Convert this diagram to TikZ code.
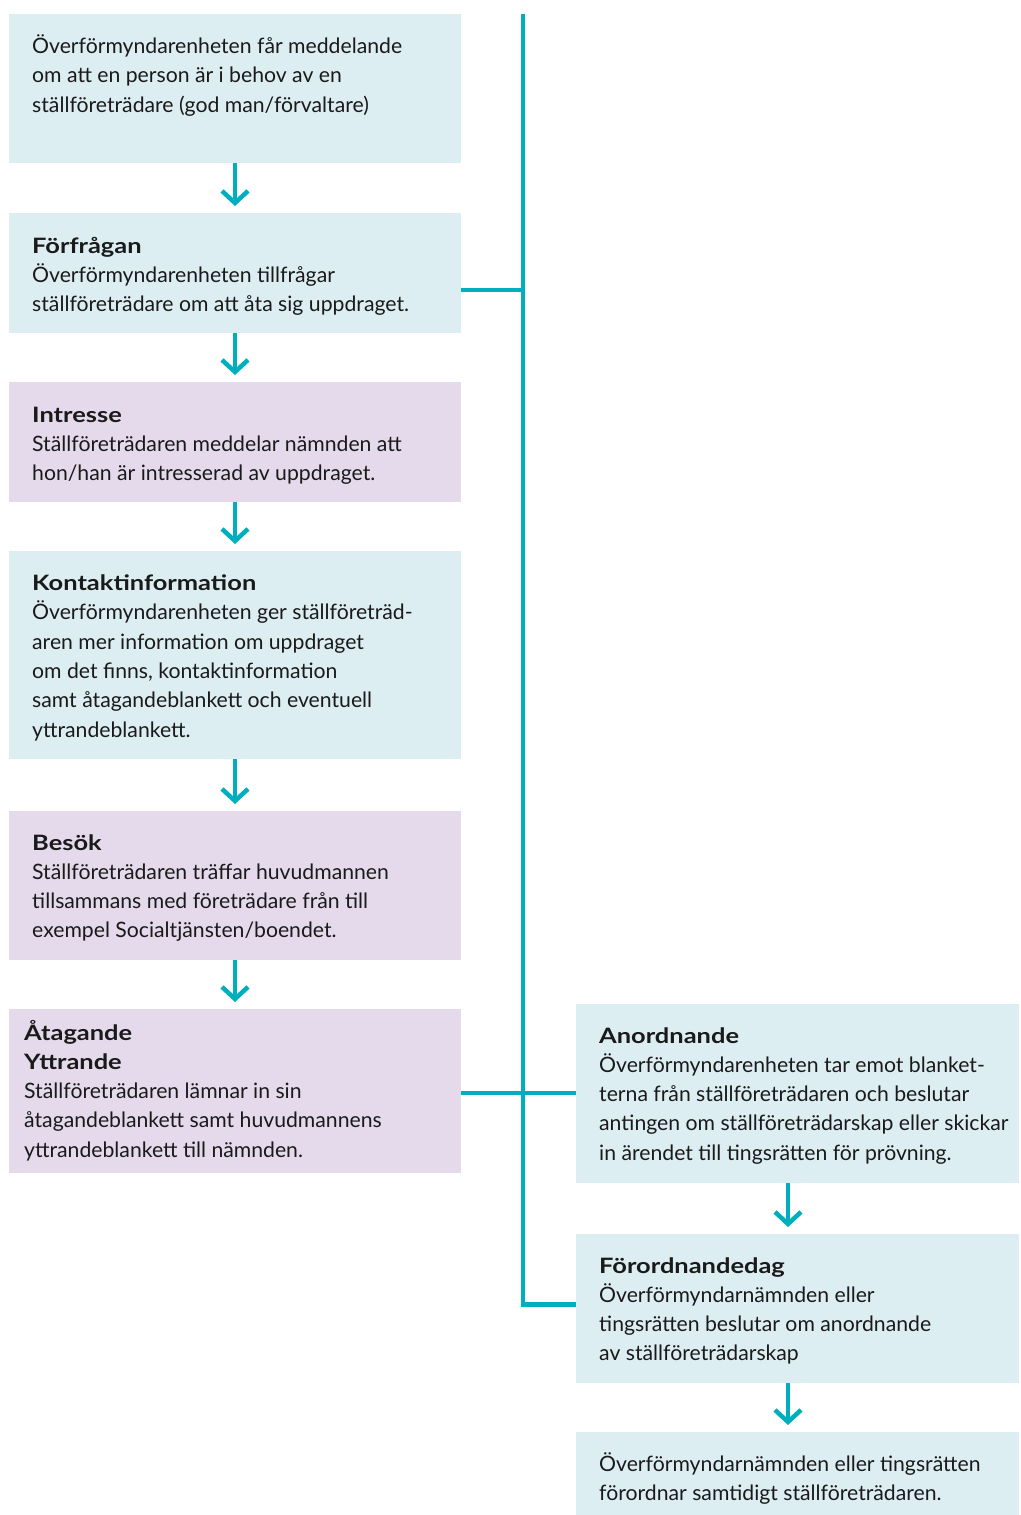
\documentclass[tikz,border=0pt]{standalone}
\usepackage{fontspec}
\setmainfont{Lato}[BoldFeatures={FakeStretch=1.2}]
\usetikzlibrary{arrows.meta,calc}
\definecolor{bluebg}{HTML}{DDEEF2}
\definecolor{purplebg}{HTML}{E5DAEC}
\definecolor{teal}{HTML}{00AFBE}
\definecolor{ink}{HTML}{1A1A1A}
\newcommand\boxtext[1]{\parbox[t]{440pt}{\raggedright\fontsize{21.2}{29.3}\selectfont #1}}
\begin{document}
\begin{tikzpicture}[x=1pt,y=-1pt,
  bbox/.style={anchor=north west,inner sep=0pt,outer sep=0pt,draw=none,fill=bluebg},
  pbox/.style={bbox,fill=purplebg},
  txt/.style={anchor=base west,inner sep=0pt,text=ink},
  conn/.style={draw=teal,line width=4.5pt},
  flow/.style={conn,-{Straight Barb[length=12pt,width=26pt]},shorten >=7pt}]
\useasboundingbox (0,0) rectangle (1020,1515);
% left column boxes
\node[bbox,minimum width=452pt,minimum height=149pt] (b1) at (9,14) {};
\node[bbox,minimum width=452pt,minimum height=120pt] (b2) at (9,213) {};
\node[pbox,minimum width=452pt,minimum height=120pt] (b3) at (9,382) {};
\node[bbox,minimum width=452pt,minimum height=208pt] (b4) at (9,551) {};
\node[pbox,minimum width=452pt,minimum height=149pt] (b5) at (9,811) {};
\node[pbox,minimum width=452pt,minimum height=164pt] (b6) at (9,1009) {};
% right column boxes
\node[bbox,minimum width=443pt,minimum height=179pt] (b7) at (576,1004) {};
\node[bbox,minimum width=443pt,minimum height=149pt] (b8) at (576,1234) {};
\node[bbox,minimum width=443pt,minimum height=83pt] (b9) at (576,1432) {};
% texts
\node[txt] (t1) at ($(b1.north west)+(23,39.5)$) {\boxtext{Överförmyndarenheten får meddelande\\om att en person är i behov av en\\ställföreträdare (god man/förvaltare)}};
\node[txt] (t2) at ($(b2.north west)+(23,40)$) {\boxtext{\textbf{Förfrågan}\\Överförmyndarenheten tillfrågar\\ställföreträdare om att åta sig uppdraget.}};
\node[txt] (t3) at ($(b3.north west)+(23,40)$) {\boxtext{\textbf{Intresse}\\Ställföreträdaren meddelar nämnden att\\hon/han är intresserad av uppdraget.}};
\node[txt] (t4) at ($(b4.north west)+(23,39.5)$) {\boxtext{\textbf{Kontaktinformation}\\Överförmyndarenheten ger ställföreträd-\\aren mer information om uppdraget\\om det finns, kontaktinformation\\samt åtagandeblankett och eventuell\\yttrandeblankett.}};
\node[txt] (t5) at ($(b5.north west)+(23,39)$) {\boxtext{\textbf{Besök}\\Ställföreträdaren träffar huvudmannen\\tillsammans med företrädare från till\\exempel Socialtjänsten/boendet.}};
\node[txt] (t6) at ($(b6.north west)+(15,31)$) {\boxtext{\textbf{Åtagande}\\\textbf{Yttrande}\\Ställföreträdaren lämnar in sin\\åtagandeblankett samt huvudmannens\\yttrandeblankett till nämnden.}};
\node[txt] (t7) at ($(b7.north west)+(23,39)$) {\boxtext{\textbf{Anordnande}\\Överförmyndarenheten tar emot blanket-\\terna från ställföreträdaren och beslutar\\antingen om ställföreträdarskap eller skickar\\in ärendet till tingsrätten för prövning.}};
\node[txt] (t8) at ($(b8.north west)+(23,39)$) {\boxtext{\textbf{Förordnandedag}\\Överförmyndarnämnden eller\\tingsrätten beslutar om anordnande\\av ställföreträdarskap}};
\node[txt] (t9) at ($(b9.north west)+(23,39.5)$) {\boxtext{Överförmyndarnämnden eller tingsrätten\\förordnar samtidigt ställföreträdaren.}};
% flow arrows
\draw[flow] (b1.south) -- (b2.north);
\draw[flow] (b2.south) -- (b3.north);
\draw[flow] (b3.south) -- (b4.north);
\draw[flow] (b4.south) -- (b5.north);
\draw[flow] (b5.south) -- (b6.north);
\draw[flow] ($(b7.south)+(-9.5,0)$) -- ($(b8.north)+(-9.5,0)$);
\draw[flow] ($(b8.south)+(-9.5,0)$) -- ($(b9.north)+(-9.5,0)$);
% trunk line
\coordinate (vtop) at (523,14);
\draw[conn,line join=miter] (vtop) |- ($(b8.west)+(0,-4)$);
\draw[conn] ($(b2.east)+(0,17)$) -- (vtop |- {$(b2.east)+(0,17)$});
\draw[conn] ($(b6.east)+(0,2)$) -- ($(b7.west)+(0,-0.5)$);
\end{tikzpicture}
\end{document}
